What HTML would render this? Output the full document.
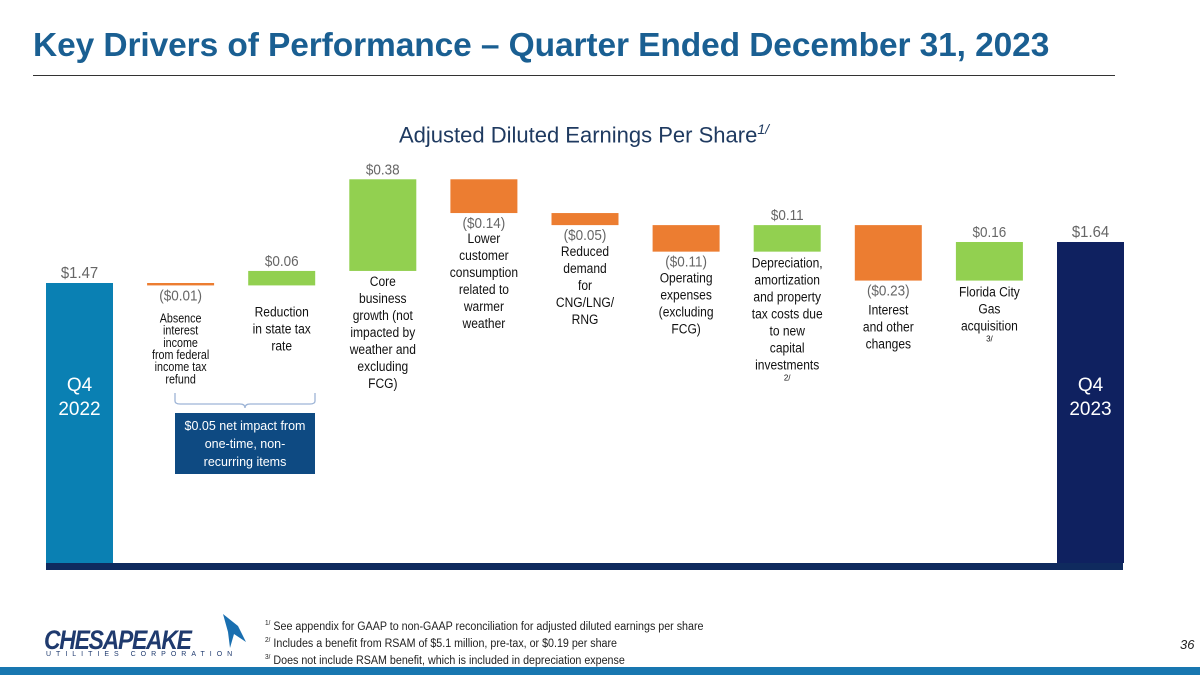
<!DOCTYPE html>
<html><head><meta charset="utf-8">
<style>
body{margin:0;width:1200px;height:675px;overflow:hidden;background:#fff;font-family:"Liberation Sans",sans-serif;position:relative}
.title{position:absolute;left:33px;top:27px;font-size:33.5px;font-weight:bold;color:#1a5f92;letter-spacing:-0.1px;white-space:nowrap}
.rule{position:absolute;left:33px;top:75px;width:1082px;height:1px;background:#333}
.sub{position:absolute;left:0;width:1168px;top:121px;text-align:center;font-size:22px;color:#1f3a60}
.sub sup{font-size:14px;font-style:italic}
.fn{position:absolute;left:265px;font-size:11.5px;color:#222;transform:scaleX(0.93);transform-origin:0 0;white-space:nowrap}
.fn sup{font-size:7px}
.band{position:absolute;left:0;top:667px;width:1200px;height:8px;background:#1877b0}
.pg{position:absolute;left:1180px;top:637px;font-size:13px;font-style:italic;color:#222}
.logo{position:absolute;left:44px;top:625px;font-size:27px;font-weight:bold;font-style:italic;color:#1f3a6e;letter-spacing:-1.5px;transform:scaleX(0.85);transform-origin:0 0}
.logo2{position:absolute;left:46px;top:651px;font-size:7px;color:#1f3a6e;letter-spacing:5px}
.box{position:absolute;left:175px;top:413px;width:140px;height:61px;background:#0e4a82;color:#fff;font-size:12.5px;text-align:center;line-height:18px;padding-top:4px;box-sizing:border-box}
</style></head><body>
<div class="title">Key Drivers of Performance – Quarter Ended December 31, 2023</div>
<div class="rule"></div>
<div class="sub">Adjusted Diluted Earnings Per Share<sup>1/</sup></div>
<svg id="chart" width="1200" height="675" style="position:absolute;left:0;top:0"></svg>
<div class="box">$0.05 net impact from<br>one-time, non-<br>recurring items</div>
<div class="logo">CHESAPEAKE</div>
<div class="logo2">UTILITIES CORPORATION</div>
<svg width="30" height="40" style="position:absolute;left:218px;top:612px"><path d="M5 2 L20 14 L28 30 L16 22 L12 36 L10 20 Z" fill="#1a6fb0"/></svg>
<div class="fn" style="top:620px"><sup>1/</sup> See appendix for GAAP to non-GAAP reconciliation for adjusted diluted earnings per share</div>
<div class="fn" style="top:637px"><sup>2/</sup> Includes a benefit from RSAM of $5.1 million, pre-tax, or $0.19 per share</div>
<div class="fn" style="top:654px"><sup>3/</sup> Does not include RSAM benefit, which is included in depreciation expense</div>
<div class="pg">36</div>
<div class="band"></div>
<script>
const categories=["Q4 2022","Absence interest income from federal income tax refund","Reduction in state tax rate","Core business growth","Lower customer consumption","Reduced demand for CNG/LNG/RNG","Operating expenses","Depreciation, amortization and property tax","Interest and other changes","Florida City Gas acquisition","Q4 2023"];
const values=[1.47,-0.01,0.06,0.38,-0.14,-0.05,-0.11,0.11,-0.23,0.16,1.64];
const valueLabels=["$1.47","($0.01)","$0.06","$0.38","($0.14)","($0.05)","($0.11)","$0.11","($0.23)","$0.16","$1.64"];
const descLines=[[],["Absence","interest","income","from federal","income tax","refund"],["Reduction","in state tax","rate"],["Core","business","growth (not","impacted by","weather and","excluding","FCG)"],["Lower","customer","consumption","related to","warmer","weather"],["Reduced","demand","for","CNG/LNG/","RNG"],["Operating","expenses","(excluding","FCG)"],["Depreciation,","amortization","and property","tax costs due","to new","capital","investments"],["Interest","and other","changes"],["Florida City","Gas","acquisition"],[]];
const descNotes=["","","","","","","","2/","","3/",""];
const svg=document.getElementById('chart');const NS="http://www.w3.org/2000/svg";
const K=241.2;function y(v){return 283-(v-1.47)*K;}
function x(i){return 46+i*101.1;}const W=67,BASE=563;
function mk(t,a,p){const e=document.createElementNS(NS,t);for(const k in a)e.setAttribute(k,a[k]);(p||svg).appendChild(e);return e;}
const strip=mk('rect',{x:46,y:563,width:1077,height:7,fill:'#0f2a5e'});


let run=0;
values.forEach((v,i)=>{
 const total=(i==0||i==values.length-1);let top,bot;
 if(total){top=y(v);bot=BASE;run=v;}else{const a=run,b=run+v;top=y(Math.max(a,b));bot=y(Math.min(a,b));run=b;}
 const col=total?(i==0?'#0a80b3':'#0f2160'):(v<0?'#ec7d31':'#92d050');
 const r=mk('rect',{x:x(i),y:top,width:W,height:Math.max(bot-top,2),fill:col});
 
 
 const cx=x(i)+W/2;const neg=v<0&&!total;
 const g0=mk('g',{transform:'translate('+cx+',0) scale(0.93,1)'});
 const lt=mk('text',{x:0,y:neg?bot+15:top-5,'text-anchor':'middle','font-size':(total?16:14.5),fill:'#666'},g0);
 lt.textContent=valueLabels[i];
 
 
 if(total){
  ['Q4',categories[i].split(' ')[1]].forEach((s,j)=>{const t=mk('text',{x:cx,y:391+j*24,'text-anchor':'middle','font-size':19,fill:'#fff'});t.textContent=s;
  
  });
 }else{
  const lines=descLines[i];const small=(i==1);const lh=small?12.2:17;const fs=small?12.5:14;
  let y0=neg?bot+31:bot+18;if(i==2)y0=bot+31;if(i==1)y0=bot+37;if(i==4)y0=bot+30;if(i==6)y0=bot+31;if(i==8)y0=bot+34;if(i==9)y0=bot+16;if(i==7)y0=bot+16;if(i==3)y0=bot+15;
  const g=mk('g',{transform:'translate('+cx+',0) scale(0.86,1)'});
  const t=mk('text',{'text-anchor':'middle','font-size':fs,fill:'#111'},g);
  
  
  lines.forEach((s,j)=>{const ts=document.createElementNS(NS,'tspan');ts.setAttribute('x',0);ts.setAttribute('y',y0+j*lh);ts.textContent=s;t.appendChild(ts);});
  if(descNotes[i]){const n=mk('text',{x:cx,y:y0+lines.length*lh-6,'text-anchor':'middle','font-size':8,fill:'#111'});n.textContent=descNotes[i];
  
  }
 }
});
const br=mk('path',{d:'M175 393 V401 Q175 404 180 404 H240 Q245 404 245 408 Q245 404 250 404 H310 Q315 404 315 401 V393',fill:'none',stroke:'#9db4d6','stroke-width':1.3});


</script>
</body></html>
